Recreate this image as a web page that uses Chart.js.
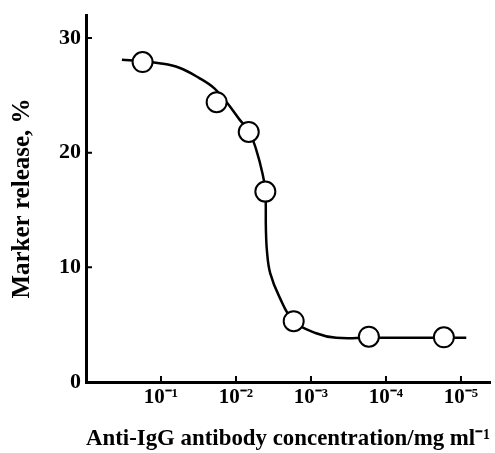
<!DOCTYPE html>
<html>
<head>
<meta charset="utf-8">
<script src="https://cdn.jsdelivr.net/npm/chart.js@4"></script>
<style>
  html, body { margin: 0; padding: 0; background: #fff; }
  #wrap { width: 495px; height: 453px; }
</style>
</head>
<body>
<div id="wrap"><canvas id="myChart"></canvas></div>
<script>
// measured points (concentration in mg/ml, release in %)
const concentrations = [0.176, 0.0181, 0.00676, 0.00406, 0.0017, 0.000169, 0.0000169];
const releases = [27.9, 24.4, 21.8, 16.6, 5.3, 3.95, 3.9];

// fitted curve
const curveConc = [0.332, 0.176, 0.1054, 0.057, 0.0308, 0.0194, 0.013, 0.00901, 0.00662, 0.00534,
  0.00444, 0.00406, 0.00399, 0.00385, 0.0035, 0.00263, 0.0017, 0.000853, 0.000461, 0.000169,
  0.0000169, 0.0000085];
const curveRel = [28.1, 27.95, 27.8, 27.4, 26.5, 25.6, 24.3, 22.9, 21.8, 20.2,
  18.2, 16.6, 13.3, 11.3, 9.5, 7.4, 5.3, 4.25, 3.85, 3.85,
  3.85, 3.85];

const xTicks = [1e-1, 1e-2, 1e-3, 1e-4, 1e-5];
const xTickLabels = ["10\u207B\u00B9", "10\u207B\u00B2", "10\u207B\u00B3", "10\u207B\u2074", "10\u207B\u2075"];
const yTicks = [0, 10, 20, 30];

const serif = "'Liberation Serif', 'Times New Roman', serif";

// small tick marks pointing into the plot
const innerTicks = {
  id: "innerTicks",
  afterDraw(chart) {
    const { ctx, scales: { x, y } } = chart;
    ctx.save();
    ctx.strokeStyle = "#000";
    ctx.lineWidth = 2;
    ctx.beginPath();
    xTicks.forEach((v) => {
      const px = x.getPixelForValue(v);
      ctx.moveTo(px, y.bottom);
      ctx.lineTo(px, y.bottom - 6);
    });
    yTicks.forEach((v) => {
      const py = y.getPixelForValue(v);
      ctx.moveTo(x.left, py);
      ctx.lineTo(x.left + 6, py);
    });
    ctx.stroke();
    ctx.restore();
  },
};

var ctx = document.getElementById("myChart").getContext("2d");
var myChart = new Chart(ctx, {
  type: "scatter",
  data: {
    datasets: [
      {
        label: "Measured",
        data: concentrations.map((c, i) => ({ x: c, y: releases[i] })),
        pointRadius: 10,
        pointBorderWidth: 2,
        pointBackgroundColor: "#fff",
        pointBorderColor: "#000",
        showLine: false,
      },
      {
        label: "Curve",
        data: curveConc.map((c, i) => ({ x: c, y: curveRel[i] })),
        showLine: true,
        pointRadius: 0,
        borderColor: "#000",
        borderWidth: 2.5,
        tension: 0.4,
      },
    ],
  },
  options: {
    responsive: true,
    maintainAspectRatio: false,
    animation: false,
    layout: { autoPadding: false, padding: { top: 15, right: 5, left: 0, bottom: 0 } },
    plugins: {
      legend: { display: false },
      tooltip: { enabled: false },
    },
    scales: {
      x: {
        type: "logarithmic",
        reverse: true,
        min: 4.1e-6,
        max: 1.0,
        afterBuildTicks: (scale) => {
          scale.ticks = xTicks.map((v) => ({ value: v }));
        },
        afterFit: (scale) => {
          scale.height = 71;
          scale.paddingLeft = 0;
          scale.paddingRight = 0;
        },
        grid: { drawOnChartArea: false, drawTicks: false },
        border: { color: "#000", width: 3 },
        ticks: {
          color: "#000",
          padding: 3,
          maxRotation: 0,
          font: { family: serif, size: 21, weight: "bold" },
          callback: (value) => xTickLabels[xTicks.indexOf(value)],
        },
        title: {
          display: true,
          text: "Anti-IgG antibody concentration/mg ml\u207B\u00B9",
          color: "#000",
          font: { family: serif, size: 23, weight: "bold" },
          padding: { top: 0, bottom: 0 },
        },
      },
      y: {
        min: 0,
        max: 32,
        afterBuildTicks: (scale) => {
          scale.ticks = yTicks.map((v) => ({ value: v }));
        },
        afterFit: (scale) => {
          scale.width = 86;
          scale.paddingTop = 0;
          scale.paddingBottom = 0;
        },
        grid: { drawOnChartArea: false, drawTicks: false },
        border: { color: "#000", width: 3 },
        ticks: {
          color: "#000",
          padding: 5,
          font: { family: serif, size: 22, weight: "bold" },
        },
        title: {
          display: true,
          text: "Marker release, %",
          color: "#000",
          font: { family: serif, size: 25, weight: "bold" },
          padding: { top: 8, bottom: 0 },
        },
      },
    },
  },
  plugins: [innerTicks],
});
</script>
</body>
</html>
